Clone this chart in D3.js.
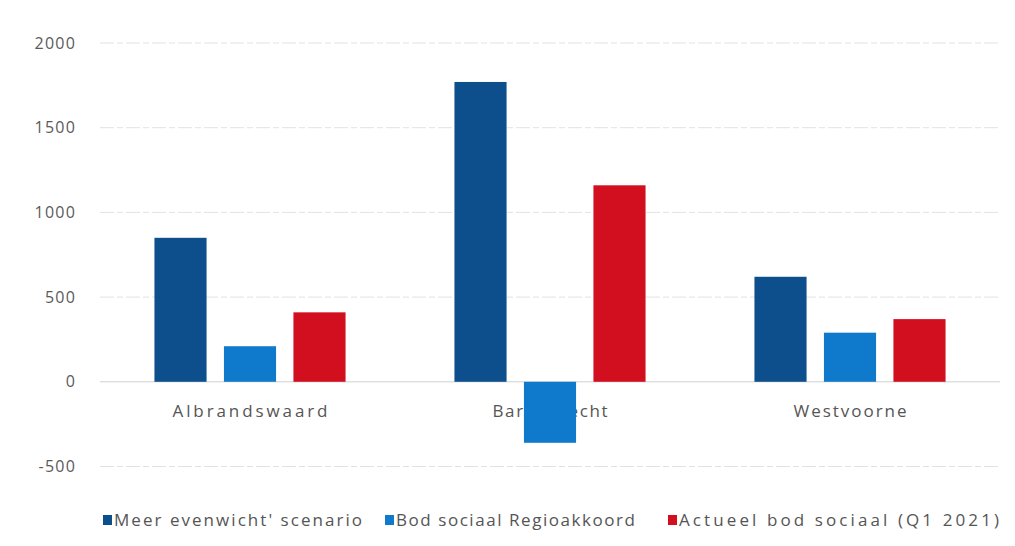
<!DOCTYPE html>
<html>
<head>
<meta charset="utf-8">
<script src="https://cdn.jsdelivr.net/npm/d3@7"></script>
<style>
	body { margin: 0; background: #fff; }
	text { font-family: "Open Sans", "DejaVu Sans", sans-serif; }
</style>
</head>
<body>
<div id="chart"></div>
<script>
// data
const gemeenten = ["Albrandswaard", "Barendrecht", "Westvoorne"];
const series = ["Meer evenwicht' scenario", "Bod sociaal Regioakkoord", "Actueel bod sociaal (Q1 2021)"];
const meerEvenwicht = [850, 1770, 620];
const bodRegio = [210, -360, 290];
const actueelBod = [410, 1160, 370];
const yTicks = [-500, 0, 500, 1000, 1500, 2000];

const colors = ["#0c4f8c", "#0f7acb", "#d20f1e"];
const values = [meerEvenwicht, bodRegio, actueelBod];

const w = 1015, h = 546;
const left = 100, right = 1000;

const svg = d3.select("#chart").append("svg")
	.attr("width", w)
	.attr("height", h);

// y scale
const yScale = d3.scaleLinear()
	.domain([-500, 2000])
	.range([466.5, 43]);

// gridlines
svg.append("g")
	.selectAll("line")
	.data(yTicks)
	.enter().append("line")
	.attr("x1", left)
	.attr("x2", right)
	.attr("y1", d => yScale(d))
	.attr("y2", d => yScale(d))
	.attr("stroke", d => d === 0 ? "#d0d0d0" : "#e2e2e2")
	.attr("stroke-width", 1)
	.attr("stroke-dasharray", d => d === 0 ? null : "14,3,6,3");

// y labels
svg.append("g")
	.selectAll("text")
	.data(yTicks)
	.enter().append("text")
	.attr("x", 76)
	.attr("y", d => yScale(d))
	.attr("dy", ".35em")
	.style("text-anchor", "end")
	.style("font-size", "16px")
	.style("letter-spacing", "1.2px")
	.attr("fill", "#5a5a5a")
	.text(d => d);

// x scales
const x0 = d3.scaleBand()
	.domain(gemeenten)
	.range([left, right])
	.paddingInner(0.363)
	.paddingOuter(0.1815);

const x1 = d3.scaleBand()
	.domain(series)
	.range([0, x0.bandwidth()])
	.paddingInner(0.25);

// category labels (drawn under the bars, like the original)
const catW = [155, 115, 113];
svg.append("g")
	.selectAll("text")
	.data(gemeenten)
	.enter().append("text")
	.attr("x", (d, i) => x0(d) + x0.bandwidth() / 2 - catW[i] / 2)
	.attr("y", 411)
	.attr("dy", ".35em")
	.style("font-size", "17px")
	.attr("fill", "#555")
	.attr("textLength", (d, i) => catW[i])
	.attr("lengthAdjust", "spacing")
	.text(d => d);

// bars
const groups = svg.selectAll(".group")
	.data(gemeenten)
	.enter().append("g")
	.attr("class", "group")
	.attr("transform", d => "translate(" + x0(d) + ",0)");

groups.selectAll("rect")
	.data((g, gi) => series.map((s, si) => ({ s: s, v: values[si][gi], c: colors[si] })))
	.enter().append("rect")
	.attr("x", d => x1(d.s))
	.attr("width", x1.bandwidth())
	.attr("y", d => yScale(Math.max(0, d.v)))
	.attr("height", d => Math.abs(yScale(d.v) - yScale(0)))
	.attr("fill", d => d.c);

// legend
const legendX = [103, 385, 668];
const legendW = [248, 239, 320];
const legend = svg.selectAll(".legend")
	.data(series)
	.enter().append("g")
	.attr("class", "legend")
	.attr("transform", (d, i) => "translate(" + legendX[i] + ",520)");

legend.append("rect")
	.attr("x", 0)
	.attr("y", -5)
	.attr("width", 9)
	.attr("height", 10)
	.attr("fill", (d, i) => colors[i]);

legend.append("text")
	.attr("x", 11)
	.attr("y", 0)
	.attr("dy", ".35em")
	.style("font-size", "17px")
	.attr("fill", "#555")
	.attr("textLength", (d, i) => legendW[i])
	.attr("lengthAdjust", "spacing")
	.text(d => d);
</script>
</body>
</html>
